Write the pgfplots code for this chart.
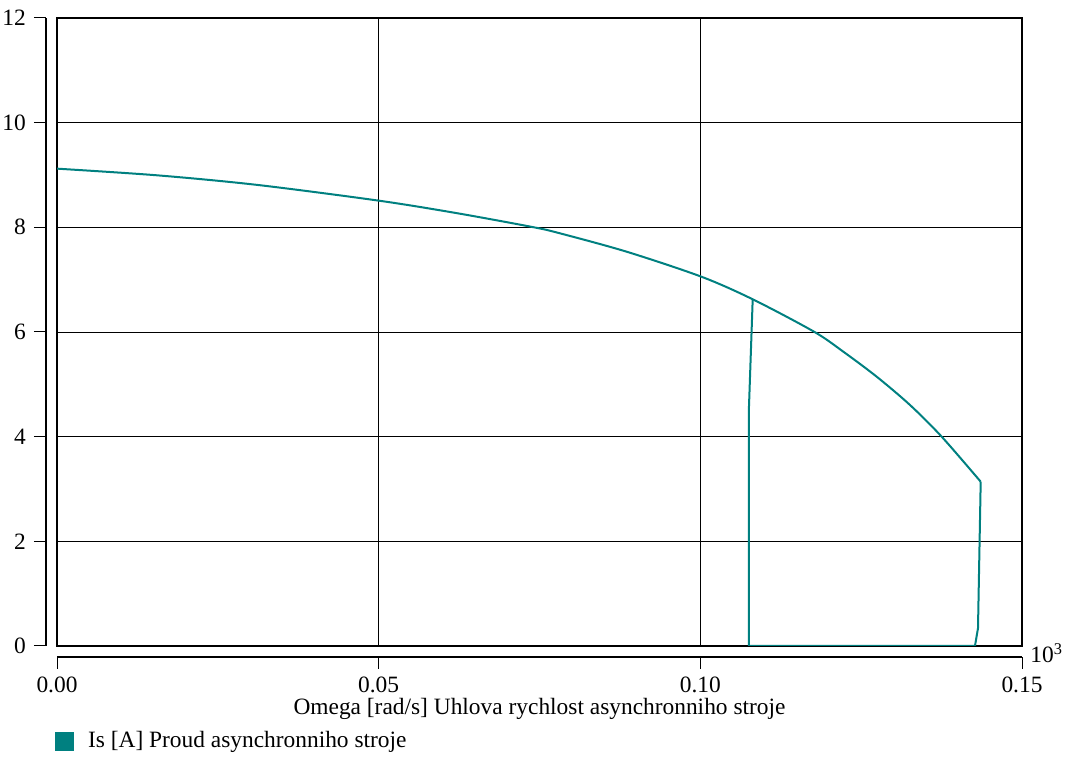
\documentclass[border=0pt]{standalone}
\usepackage{fontspec}
\setmainfont{Liberation Serif}
\usepackage{pgfplots}
\pgfplotsset{compat=1.18}
\definecolor{curve}{RGB}{0,128,128}
\pgfplotsset{
  common/.style={scale only axis, width=482.5pt, height=314pt,
    xmin=0, xmax=0.15, ymin=0, ymax=12, scaled ticks=false,
    xtick={0,0.05,0.1,0.15}, ytick={0,2,...,12}},
  sideaxis/.style={common, anchor=south west,
    axis line style={-, black, line width=0.6pt},
    tick align=outside, major tick length=6pt,
    tick style={black, line width=0.5pt},
    /pgf/number format/assume math mode=true, clip=false},
}
\begin{document}
\fontsize{11.7pt}{14pt}\selectfont
\begin{tikzpicture}
\useasboundingbox (-28.5pt,-56pt) rectangle (505pt,323pt);
\begin{axis}[common, at={(0,0)}, anchor=south west,
  grid=major, grid style={black, line width=0.4pt},
  major tick length=0pt, xticklabels={}, yticklabels={},
  axis line style={black, line width=0.8pt},
  legend style={draw=none, fill=none, at={(-0.002,-0.152)}, anchor=west,
    inner sep=0pt, outer sep=0pt, nodes={inner sep=0pt},
    /tikz/every odd column/.append style={column sep=7pt}},
  legend cell align=left,
  legend image code/.code={\fill[curve] (0pt,-4.25pt) rectangle (8.5pt,4.25pt);},
]
\addplot[curve, line width=1pt, smooth, tension=0.5] coordinates {
(0,9.121) (0.01554,8.994) (0.03109,8.811) (0.05005,8.509) (0.06218,8.270)
(0.0741,8.001) (0.07819,7.885) (0.08855,7.534) (0.10015,7.057) (0.10814,6.625)
(0.11767,6.006) (0.12222,5.624) (0.12741,5.146) (0.13259,4.605) (0.13752,3.999)
(0.14358,3.139)};
\addlegendentry{Is [A] Proud asynchronniho stroje}
\addplot[curve, line width=1pt, forget plot] coordinates {
(0.14358,3.139) (0.14316,0.34) (0.14269,0) (0.10756,0) (0.10756,4.567) (0.10814,6.625)};
\end{axis}
% detached y axis
\begin{axis}[sideaxis, at={(-5.5pt,0)},
  axis y line*=left, axis x line=none,
  yticklabel={\pgfmathprintnumber[fixed, precision=0]{\tick}},
]
\end{axis}
% detached x axis
\begin{axis}[sideaxis, at={(0,-5.5pt)},
  axis x line*=bottom, axis y line*=left,
  y axis line style={draw=none}, ytick=\empty,
  xticklabel={\pgfmathprintnumber[fixed, fixed zerofill, precision=2]{\tick}},
  xticklabel style={yshift=0pt},
  xlabel={Omega [rad/s] Uhlova rychlost asynchronniho stroje},
  xlabel style={at={(axis description cs:0.5,-0.0908)}, anchor=base, inner sep=0pt},
]
\node[anchor=base west, inner sep=0pt] at (rel axis cs:1,0) [xshift=4pt, yshift=-3pt] {10\textsuperscript{3}};
\end{axis}
\end{tikzpicture}
\end{document}
